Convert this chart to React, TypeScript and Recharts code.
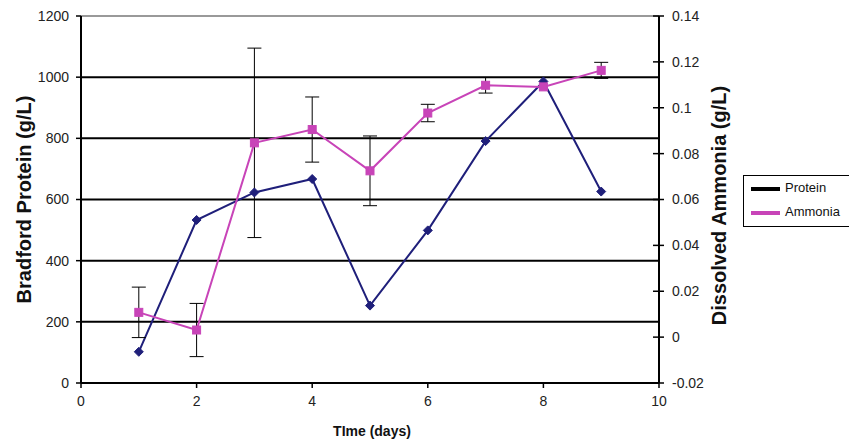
import React from "react";
import {
  ComposedChart,
  Line,
  XAxis,
  YAxis,
  CartesianGrid,
  ReferenceLine,
  ErrorBar,
} from "recharts";

const days = [1, 2, 3, 4, 5, 6, 7, 8, 9];
const protein = [102, 533, 623, 667, 253, 499, 791, 986, 626];
const ammonia = [0.0108, 0.0031, 0.0847, 0.0905, 0.0725, 0.0977, 0.1098, 0.1091, 0.1163];
const ammoniaErr = [0.011, 0.0116, 0.0413, 0.0142, 0.0152, 0.0038, 0.0034, 0, 0.0035];

const xTicks = [0, 2, 4, 6, 8, 10];
const leftTicks = [0, 200, 400, 600, 800, 1000, 1200];
const gridValues = [200, 400, 600, 800, 1000];
const rightTicks = [-0.02, 0, 0.02, 0.04, 0.06, 0.08, 0.1, 0.12, 0.14];

const data = days.map((d, i) => ({
  day: d,
  protein: protein[i],
  ammonia: ammonia[i],
  err: ammoniaErr[i],
}));

const FONT = "'Liberation Sans', Arial, sans-serif";
const PROTEIN_COLOR = "#1F1F7A";
const AMMONIA_COLOR = "#C844B8";

const Diamond = (props: any) => {
  const { cx, cy, index } = props;
  if (cx == null || cy == null) return <g key={`d${index}`} />;
  const r = 4.5;
  return (
    <path
      key={`d${index}`}
      d={`M${cx},${cy - r}L${cx + r},${cy}L${cx},${cy + r}L${cx - r},${cy}Z`}
      fill={PROTEIN_COLOR}
      stroke={PROTEIN_COLOR}
    />
  );
};

const Square = (props: any) => {
  const { cx, cy, index } = props;
  if (cx == null || cy == null) return <g key={`s${index}`} />;
  const r = 4;
  return (
    <rect
      key={`s${index}`}
      x={cx - r}
      y={cy - r}
      width={2 * r}
      height={2 * r}
      fill={AMMONIA_COLOR}
      stroke={AMMONIA_COLOR}
    />
  );
};

const RightTick = (props: any) => {
  const { x, y, payload } = props;
  const axisX = x - 13;
  return (
    <g>
      <line x1={axisX - 6} x2={axisX + 5} y1={y} y2={y} stroke="#000" strokeWidth={1.5} />
      <text x={x} y={y} dy="0.355em" textAnchor="start" fontSize={14} fontFamily={FONT} fill="#222">
        {String(payload.value)}
      </text>
    </g>
  );
};

export default function App() {
  return (
    <div style={{ position: "absolute", left: 0, top: 0, width: 849, height: 440, background: "#fff", fontFamily: FONT }}>
      <ComposedChart
        width={849}
        height={440}
        data={data}
        margin={{ top: 16, right: 80, bottom: 0, left: 0 }}
      >
        <CartesianGrid
          yAxisId="left"
          horizontal={true}
          vertical={false}
          horizontalValues={gridValues}
          stroke="#000"
          strokeWidth={2}
        />
        <ReferenceLine yAxisId="left" y={1200} stroke="#999" strokeWidth={2} />
        <XAxis
          dataKey="day"
          type="number"
          domain={[0, 10]}
          ticks={xTicks}
          height={57}
          tickSize={5}
          tickMargin={8}
          axisLine={{ stroke: "#000", strokeWidth: 2 }}
          tickLine={{ stroke: "#000", strokeWidth: 1.5 }}
          tick={{ fontSize: 14, fill: "#222", fontFamily: FONT }}
          label={{
            value: "TIme (days)",
            position: "insideBottom",
            offset: 4,
            dx: 2,
            style: { fontSize: 14, fontWeight: "bold", fill: "#111", fontFamily: FONT },
          }}
        />
        <YAxis
          yAxisId="left"
          orientation="left"
          width={81}
          domain={[0, 1200]}
          ticks={leftTicks}
          tickSize={5}
          tickMargin={7}
          axisLine={{ stroke: "#000", strokeWidth: 2 }}
          tickLine={{ stroke: "#000", strokeWidth: 1.5 }}
          tick={{ fontSize: 14, fill: "#222", fontFamily: FONT }}
          label={{
            value: "Bradford Protein (g/L)",
            angle: -90,
            position: "center",
            dx: -17,
            style: { fontSize: 20, fontWeight: "bold", fill: "#111", fontFamily: FONT, textAnchor: "middle" },
          }}
        />
        <YAxis
          yAxisId="right"
          orientation="right"
          width={110}
          domain={[-0.02, 0.14]}
          ticks={rightTicks}
          tickSize={5}
          tickMargin={8}
          axisLine={{ stroke: "#000", strokeWidth: 2 }}
          tickLine={false}
          tick={<RightTick />}
          label={{
            value: "Dissolved Ammonia (g/L)",
            angle: -90,
            position: "center",
            dx: 5,
            dy: 6,
            style: { fontSize: 20, fontWeight: "bold", fill: "#111", fontFamily: FONT, textAnchor: "middle" },
          }}
        />
        <Line
          yAxisId="left"
          dataKey="protein"
          stroke={PROTEIN_COLOR}
          strokeWidth={2}
          dot={Diamond}
          activeDot={false}
          isAnimationActive={false}
        />
        <Line
          yAxisId="right"
          dataKey="ammonia"
          stroke={AMMONIA_COLOR}
          strokeWidth={2}
          dot={Square}
          activeDot={false}
          isAnimationActive={false}
        >
          <ErrorBar dataKey="err" direction="y" width={7} stroke="#000" strokeWidth={1} isAnimationActive={false} />
        </Line>
      </ComposedChart>
      <div
        style={{
          position: "absolute",
          left: 743,
          top: 175,
          width: 120,
          height: 52,
          border: "1.5px solid #000",
          boxSizing: "border-box",
          background: "#fff",
          fontSize: 13,
          color: "#111",
        }}
      >
        <div style={{ position: "absolute", left: 7, top: 11, width: 29, height: 4, background: "#000" }} />
        <div style={{ position: "absolute", left: 41, top: 4, lineHeight: "16px" }}>Protein</div>
        <div style={{ position: "absolute", left: 7, top: 35, width: 29, height: 4, background: AMMONIA_COLOR }} />
        <div style={{ position: "absolute", left: 41, top: 28, lineHeight: "16px" }}>Ammonia</div>
      </div>
    </div>
  );
}
